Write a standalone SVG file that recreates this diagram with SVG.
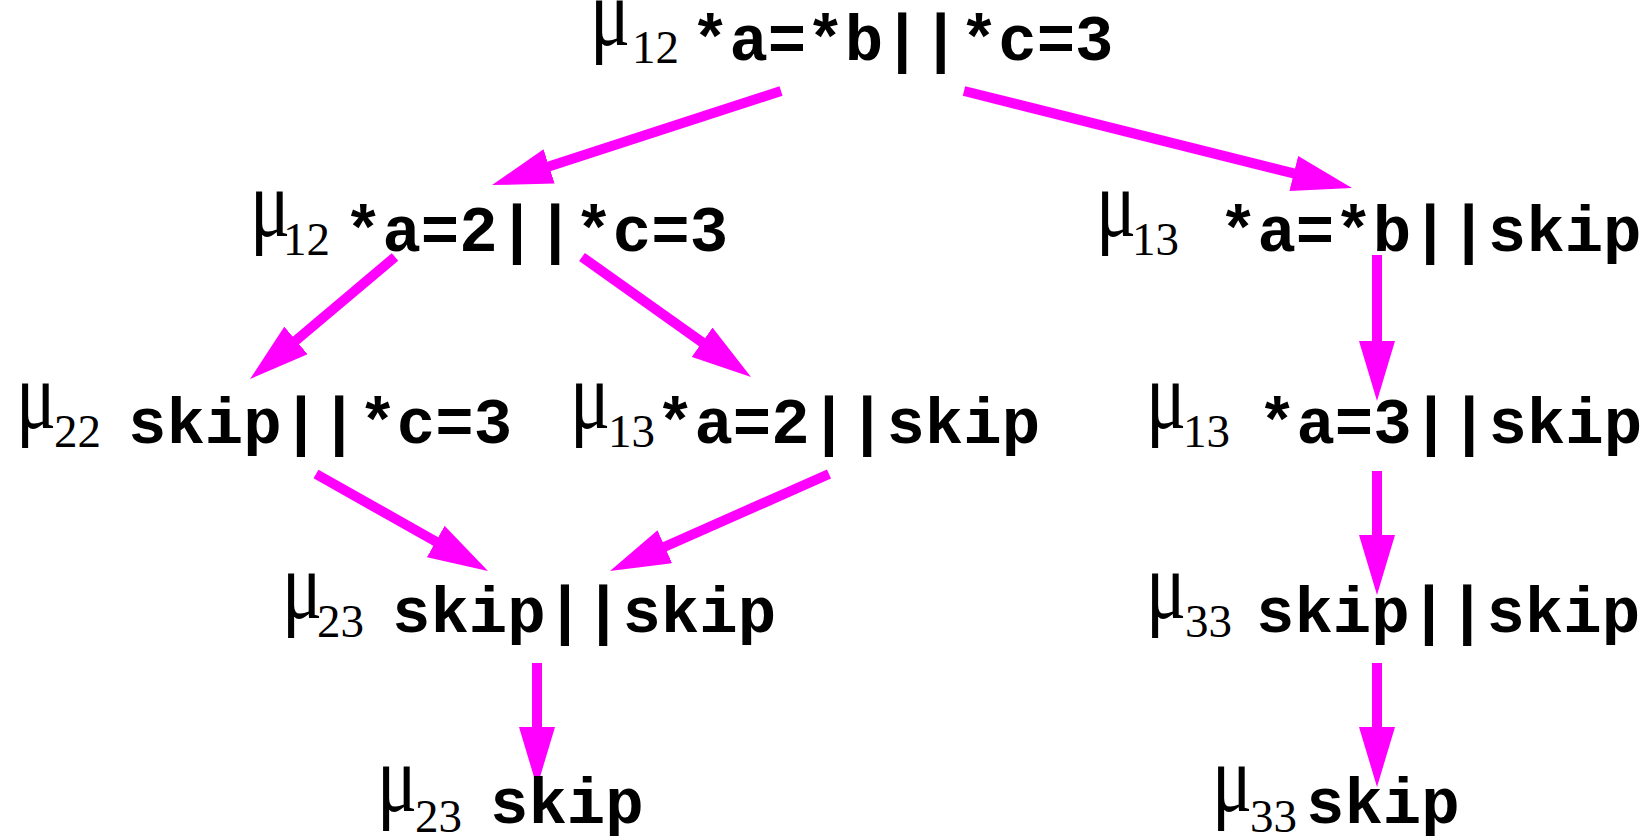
<svg xmlns="http://www.w3.org/2000/svg" width="1652" height="836" viewBox="0 0 1652 836">
<style>
.mu { font-family: "Liberation Serif", "Times New Roman", serif; font-size: 68px; fill: #000; }
.sub { font-family: "Liberation Serif", "Times New Roman", serif; font-size: 47px; fill: #000; }
.code { font-family: "Liberation Mono", "Courier New", monospace; font-size: 64px; font-weight: bold; fill: #000; }
.edge { stroke: #FF00FF; stroke-width: 10; fill: none; marker-end: url(#ah); }
</style>
<defs>
<marker id="ah" markerUnits="userSpaceOnUse" markerWidth="62" markerHeight="36" refX="2" refY="18" orient="auto" viewBox="0 0 62 36">
<path d="M0,0 L60,18 L0,36 Z" fill="#FF00FF"/>
</marker>
</defs>
<rect width="1652" height="836" fill="#fff"/>
<g id="connectors">
<line class="edge" x1="781" y1="91" x2="547.2" y2="167.1"/>
<line class="edge" x1="964" y1="91" x2="1295.7" y2="173.9"/>
<line class="edge" x1="395" y1="257" x2="294.4" y2="341.7"/>
<line class="edge" x1="582" y1="257" x2="703.7" y2="343.4"/>
<line class="edge" x1="316" y1="474" x2="437.5" y2="542.5"/>
<line class="edge" x1="829" y1="474" x2="663" y2="547.5"/>
<line class="edge" x1="1377" y1="255" x2="1377" y2="343"/>
<line class="edge" x1="1377" y1="471" x2="1377" y2="537"/>
<line class="edge" x1="537" y1="663" x2="537" y2="729"/>
<line class="edge" x1="1377" y1="663" x2="1377" y2="729"/>
</g>
<g id="n1">
<text class="mu" transform="translate(590,45) scale(1.1,1.4)">μ</text><text class="sub" x="632" y="63">12</text><text class="code" x="691" y="60">*a=*b||*c=3</text>
</g>
<g id="n2">
<text class="mu" transform="translate(250,236) scale(1.1,1.4)">μ</text><text class="sub" x="283" y="255">12</text><text class="code" x="344" y="251">*a=2||*c=3</text>
</g>
<g id="n3">
<text class="mu" transform="translate(16,428) scale(1.1,1.4)">μ</text><text class="sub" x="54" y="447">22</text><text class="code" x="128" y="443">skip||*c=3</text>
</g>
<g id="n4">
<text class="mu" transform="translate(570,428) scale(1.1,1.4)">μ</text><text class="sub" x="608" y="447">13</text><text class="code" x="656" y="443">*a=2||skip</text>
</g>
<g id="n5">
<text class="mu" transform="translate(1096,236) scale(1.1,1.4)">μ</text><text class="sub" x="1132" y="255">13</text><text class="code" x="1219" y="251">*a=*b||skip</text>
</g>
<g id="n6">
<text class="mu" transform="translate(1146,428) scale(1.1,1.4)">μ</text><text class="sub" x="1183" y="447">13</text><text class="code" x="1258" y="443">*a=3||skip</text>
</g>
<g id="n7">
<text class="mu" transform="translate(282,618) scale(1.1,1.4)">μ</text><text class="sub" x="317" y="637">23</text><text class="code" x="392" y="632">skip||skip</text>
</g>
<g id="n8">
<text class="mu" transform="translate(1146,618) scale(1.1,1.4)">μ</text><text class="sub" x="1185" y="637">33</text><text class="code" x="1256" y="632">skip||skip</text>
</g>
<g id="n9">
<text class="mu" transform="translate(377,811) scale(1.1,1.4)">μ</text><text class="sub" x="415" y="832">23</text><text class="code" x="490" y="823">skip</text>
</g>
<g id="n10">
<text class="mu" transform="translate(1212,811) scale(1.1,1.4)">μ</text><text class="sub" x="1250" y="832">33</text><text class="code" x="1306" y="823">skip</text>
</g>
</svg>
